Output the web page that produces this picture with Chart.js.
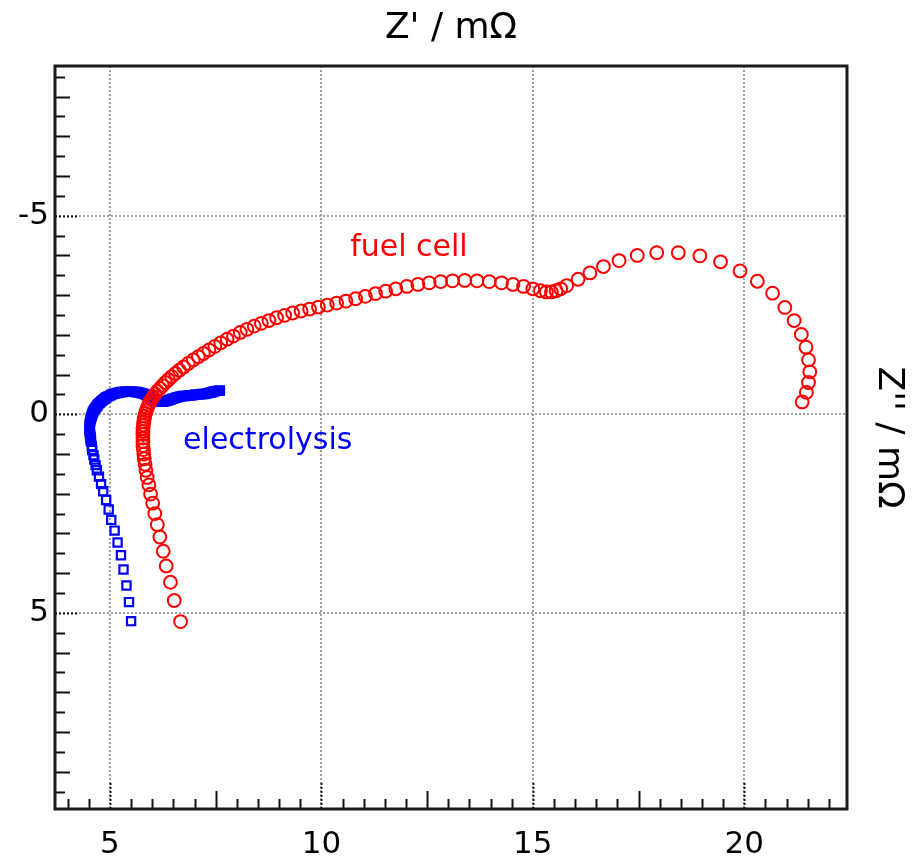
<!DOCTYPE html>
<html>
<head>
<meta charset="utf-8">
<title>Impedance spectra</title>
<script src="https://cdn.jsdelivr.net/npm/chart.js@4/dist/chart.umd.min.js"></script>
<style>
  html, body { margin: 0; padding: 0; background: #fff; }
  canvas { display: block; }
</style>
</head>
<body>
<canvas id="nyquist" width="920" height="858"></canvas>
<script>
// fuel cell spectrum, Z' and Z'' in mOhm (low frequency end first)
const fuelCellRe = [
  6.67, 6.52, 6.43, 6.33, 6.26, 6.18, 6.12, 6.06, 6.01, 5.96, 5.92, 5.88, 5.85, 5.83, 5.81, 5.80,
  5.79, 5.78, 5.78, 5.78, 5.78, 5.78, 5.78, 5.79, 5.80, 5.81, 5.82, 5.84, 5.86, 5.88, 5.91, 5.94,
  5.98, 6.02, 6.07, 6.12, 6.18, 6.24, 6.31, 6.38, 6.46, 6.55, 6.64, 6.74, 6.85, 6.97, 7.09, 7.21,
  7.34, 7.48, 7.62, 7.77, 7.92, 8.08, 8.24, 8.41, 8.58, 8.76, 8.94, 9.13, 9.32, 9.52, 9.72, 9.93,
  10.14, 10.36, 10.58, 10.81, 11.04, 11.28, 11.52, 11.76, 12.02, 12.28, 12.55, 12.82, 13.10, 13.39,
  13.68, 13.97, 14.26, 14.53, 14.78, 15.00, 15.18, 15.32, 15.44, 15.55, 15.66, 15.80, 16.07, 16.35,
  16.67, 17.04, 17.47, 17.93, 18.44, 18.95, 19.44, 19.90, 20.31, 20.67, 20.96, 21.18, 21.35, 21.46,
  21.52, 21.55, 21.52, 21.47, 21.37
];
const fuelCellIm = [
  5.22, 4.69, 4.23, 3.82, 3.45, 3.09, 2.78, 2.50, 2.24, 2.01, 1.78, 1.59, 1.41, 1.26, 1.12, 1.00,
  0.89, 0.79, 0.69, 0.60, 0.51, 0.43, 0.35, 0.27, 0.19, 0.12, 0.05, -0.02, -0.09, -0.16, -0.23, -0.30,
  -0.37, -0.44, -0.51, -0.58, -0.65, -0.72, -0.80, -0.87, -0.95, -1.03, -1.11, -1.19, -1.28, -1.37, -1.45, -1.53,
  -1.62, -1.71, -1.80, -1.89, -1.97, -2.06, -2.14, -2.22, -2.29, -2.36, -2.43, -2.49, -2.55, -2.60, -2.65, -2.70,
  -2.75, -2.80, -2.85, -2.91, -2.97, -3.04, -3.10, -3.16, -3.22, -3.27, -3.31, -3.34, -3.36, -3.37,
  -3.36, -3.34, -3.31, -3.27, -3.22, -3.16, -3.11, -3.08, -3.08, -3.11, -3.16, -3.24, -3.40, -3.56,
  -3.72, -3.87, -4.00, -4.07, -4.07, -3.99, -3.84, -3.61, -3.35, -3.05, -2.69, -2.36, -2.01, -1.69,
  -1.37, -1.07, -0.80, -0.55, -0.31
];

// electrolysis spectrum
const electrolysisRe = [
  5.50, 5.45, 5.39, 5.32, 5.26, 5.18, 5.11, 5.03, 4.97, 4.91, 4.84, 4.79, 4.74, 4.69, 4.66, 4.63,
  4.61, 4.58, 4.57,
  4.55, 4.55, 4.54, 4.54, 4.53, 4.53, 4.52, 4.52, 4.52, 4.52, 4.52, 4.52, 4.53, 4.53, 4.54, 4.55,
  4.56, 4.57, 4.58, 4.59, 4.61, 4.62, 4.64, 4.66, 4.68, 4.70, 4.72, 4.75, 4.77, 4.80, 4.83, 4.86,
  4.89, 4.92, 4.96, 5.00, 5.03, 5.07, 5.11, 5.15, 5.19, 5.23, 5.27, 5.31, 5.35, 5.39, 5.43, 5.47,
  5.51, 5.55, 5.59, 5.63, 5.67, 5.71, 5.75, 5.79, 5.83, 5.87, 5.90, 5.94, 5.97, 6.01, 6.04, 6.08,
  6.12, 6.16, 6.20, 6.24, 6.28, 6.32, 6.36, 6.40, 6.44, 6.48, 6.52, 6.56, 6.60, 6.64, 6.68, 6.73,
  6.77, 6.82, 6.86, 6.91, 6.95, 7.00, 7.04, 7.09, 7.13, 7.18, 7.22, 7.27, 7.31, 7.36, 7.40, 7.44,
  7.48, 7.52, 7.56, 7.60
];
const electrolysisIm = [
  5.21, 4.73, 4.31, 3.91, 3.55, 3.23, 2.93, 2.66, 2.40, 2.16, 1.94, 1.76, 1.57, 1.41, 1.28, 1.14,
  1.03, 0.90, 0.80,
  0.69, 0.65, 0.61, 0.57, 0.53, 0.49, 0.45, 0.41, 0.37, 0.33, 0.29, 0.25, 0.21, 0.18, 0.14, 0.10,
  0.07, 0.03, 0.00, -0.04, -0.07, -0.10, -0.13, -0.16, -0.19, -0.22, -0.25, -0.28, -0.30, -0.33, -0.36, -0.38,
  -0.41, -0.43, -0.45, -0.47, -0.49, -0.51, -0.52, -0.53, -0.54, -0.55, -0.56, -0.56, -0.57, -0.57, -0.57, -0.57,
  -0.57, -0.57, -0.56, -0.56, -0.55, -0.54, -0.53, -0.52, -0.50, -0.48, -0.46, -0.44, -0.42, -0.40, -0.38, -0.36,
  -0.35, -0.33, -0.32, -0.32, -0.32, -0.33, -0.34, -0.36, -0.37, -0.39, -0.40, -0.42, -0.43, -0.44, -0.45, -0.46,
  -0.46, -0.47, -0.47, -0.48, -0.48, -0.49, -0.49, -0.50, -0.50, -0.51, -0.51, -0.52, -0.53, -0.54, -0.55, -0.57,
  -0.58, -0.59, -0.59, -0.60
];

// labelled tick values
const xTickValues = [5, 10, 15, 20];
const yTickValues = [-5, 0, 5];

// axis ranges
const xRange = [3.70, 22.43];
const yRange = [-8.77, 9.94];

// curve names, placed at data coordinates (left edge, baseline)
const curveLabels = [
  { text: 'fuel cell', x: 10.68, y: -3.98, color: '#ff0000' },
  { text: 'electrolysis', x: 6.73, y: 0.88, color: '#0000ff' }
];

const FONT = "'DejaVu Sans', sans-serif";

function toPoints(xs, ys) {
  return xs.map((x, i) => ({ x, y: ys[i] }));
}

// frame and inward tick marks along the bottom and left edges
const frameTicks = {
  id: 'frameTicks',
  afterDraw(chart) {
    const { ctx, chartArea: a } = chart;
    const sx = chart.scales.x;
    const sy = chart.scales.y;
    ctx.save();
    ctx.strokeStyle = '#111';
    ctx.lineWidth = 2;

    for (let v = Math.ceil(sx.min * 2) / 2; v <= sx.max; v += 0.5) {
      const px = Math.round(sx.getPixelForValue(v)) + 0.5;
      let len = 10;
      const major = Math.abs(v % 5) < 1e-6;
      if (major) len = 26;
      else if (Math.abs(v % 2.5) < 1e-6) len = 18;
      ctx.setLineDash(major ? [2, 2] : []);
      ctx.beginPath();
      ctx.moveTo(px, a.bottom);
      ctx.lineTo(px, a.bottom - len);
      ctx.stroke();
    }
    for (let v = Math.ceil(sy.min * 2) / 2; v <= sy.max; v += 0.5) {
      const py = Math.round(sy.getPixelForValue(v)) + 0.5;
      let len = 10;
      const major = Math.abs(v % 5) < 1e-6;
      if (major) len = 24;
      else if (Math.abs(v % 1) < 1e-6) len = 15;
      ctx.setLineDash(major ? [2, 2] : []);
      ctx.beginPath();
      ctx.moveTo(a.left, py);
      ctx.lineTo(a.left + len, py);
      ctx.stroke();
    }

    ctx.setLineDash([]);
    ctx.strokeStyle = '#1a1a1a';
    ctx.lineWidth = 3;
    ctx.strokeRect(a.left, a.top, a.right - a.left, a.bottom - a.top);
    ctx.restore();
  }
};

const curveText = {
  id: 'curveText',
  afterDatasetsDraw(chart) {
    const { ctx } = chart;
    const sx = chart.scales.x;
    const sy = chart.scales.y;
    ctx.save();
    ctx.font = '30px ' + FONT;
    ctx.textAlign = 'left';
    ctx.textBaseline = 'alphabetic';
    curveLabels.forEach(l => {
      ctx.fillStyle = l.color;
      ctx.fillText(l.text, sx.getPixelForValue(l.x), sy.getPixelForValue(l.y));
    });
    ctx.restore();
  }
};

const ctx = document.getElementById('nyquist').getContext('2d');

new Chart(ctx, {
  type: 'scatter',
  data: {
    datasets: [
      {
        label: 'fuel cell',
        data: toPoints(fuelCellRe, fuelCellIm),
        pointStyle: 'circle',
        pointRadius: 6.4,
        pointBorderWidth: 2,
        borderColor: '#ff0000',
        backgroundColor: 'rgba(0,0,0,0)'
      },
      {
        label: 'electrolysis',
        data: toPoints(electrolysisRe, electrolysisIm),
        pointStyle: 'rect',
        pointRadius: 5.8,
        pointBorderWidth: 2.2,
        borderColor: '#0000ff',
        backgroundColor: 'rgba(0,0,0,0)'
      }
    ]
  },
  options: {
    responsive: false,
    animation: false,
    layout: { padding: 0 },
    plugins: {
      legend: { display: false },
      tooltip: { enabled: false }
    },
    scales: {
      x: {
        type: 'linear',
        position: 'bottom',
        min: xRange[0],
        max: xRange[1],
        afterBuildTicks: s => { s.ticks = xTickValues.map(v => ({ value: v })); },
        afterFit: s => { s.height = 49; },
        ticks: { color: '#000', font: { family: FONT, size: 31 }, padding: 17, maxRotation: 0 },
        grid: { color: '#a0a0a0', lineWidth: 2, drawTicks: false },
        border: { display: false, dash: [2, 2] }
      },
      xTop: {
        type: 'linear',
        position: 'top',
        min: xRange[0],
        max: xRange[1],
        afterFit: s => { s.height = 66; },
        ticks: { display: false },
        grid: { display: false, drawTicks: false },
        border: { display: false },
        title: {
          display: true,
          text: "Z' / m\u03A9",
          color: '#000',
          font: { family: FONT, size: 36 },
          padding: { top: 7, bottom: 0 }
        }
      },
      y: {
        type: 'linear',
        position: 'left',
        reverse: true,
        min: yRange[0],
        max: yRange[1],
        afterBuildTicks: s => { s.ticks = yTickValues.map(v => ({ value: v })); },
        afterFit: s => { s.width = 55; },
        ticks: { color: '#000', font: { family: FONT, size: 31 }, padding: 6 },
        grid: { color: '#a0a0a0', lineWidth: 2, drawTicks: false },
        border: { display: false, dash: [2, 2] }
      },
      yRight: {
        type: 'linear',
        position: 'right',
        reverse: true,
        min: yRange[0],
        max: yRange[1],
        afterFit: s => { s.width = 73; },
        ticks: { display: false },
        grid: { display: false, drawTicks: false },
        border: { display: false },
        title: {
          display: true,
          text: "Z'' / m\u03A9",
          color: '#000',
          font: { family: FONT, size: 36 },
          padding: { top: 10, bottom: 0 }
        }
      }
    }
  },
  plugins: [curveText, frameTicks]
});
</script>
</body>
</html>
